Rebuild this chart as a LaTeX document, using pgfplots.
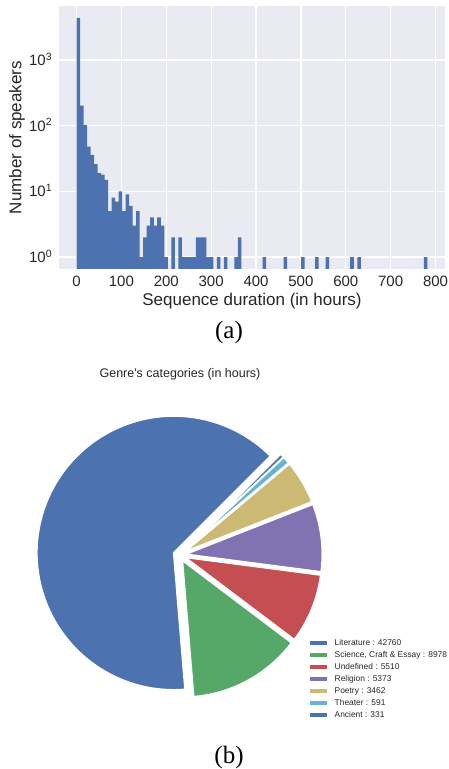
\documentclass[border=0pt]{standalone}
\usepackage{pgfplots}
\pgfplotsset{compat=1.18}
\usepackage{pgfplotstable}
\usepackage{fontspec}
\setmainfont{Liberation Sans}
\newfontfamily\capfont{Liberation Serif}
\definecolor{bg}{HTML}{EAEAF2}
\definecolor{txt}{HTML}{262626}
\definecolor{c0}{HTML}{4C72B0}
\definecolor{c1}{HTML}{55A868}
\definecolor{c2}{HTML}{C44E52}
\definecolor{c3}{HTML}{8172B2}
\definecolor{c4}{HTML}{CCB974}
\definecolor{c5}{HTML}{64B5CD}

% histogram: bin centre (bin width 7.82 h) and number of speakers
\pgfplotstableread{
x y
3.91 4360
11.73 202
19.55 102
27.37 48
35.19 36
43.01 26
50.83 19
58.65 18
66.47 15
74.29 5
82.11 8
89.93 7
97.75 10
105.57 5
113.39 9
121.21 6
129.03 3
136.85 5
144.67 1
152.49 2
160.31 3
168.13 4
175.95 3
183.77 4
191.59 3
199.41 1
215.05 2
230.69 2
238.51 1
246.33 1
254.15 1
261.97 1
269.79 2
277.61 2
285.43 2
293.25 1
301.07 1
316.71 1
332.35 1
355.81 1
363.63 2
418.37 1
465.29 1
504.39 1
535.67 1
559.13 1
613.87 1
629.51 1
778.09 1
}\histdata

% pie: genre hours (in thousands of hours for the angle computation)
\pgfmathsetmacro{\pietot}{42.760+8.978+5.510+5.373+3.462+0.591+0.331}
\def\pcx{179.4}
\def\pcy{214}
\def\pr{137}
\def\pex{6}
\def\curang{45}
\newcommand{\piewedge}[2]{%
  \pgfmathsetmacro{\wa}{\curang}%
  \pgfmathsetmacro{\wb}{\curang+360*#1/\pietot}%
  \pgfmathsetmacro{\wm}{(\wa+\wb)/2}%
  \pgfmathsetmacro{\wcx}{\pcx+\pex*cos(\wm)}%
  \pgfmathsetmacro{\wcy}{\pcy+\pex*sin(\wm)}%
  \edef\doit{\noexpand\addplot[fill=#2, draw=white, line width=1.8pt, line join=round, domain=\wa:\wb, samples=100, variable=\noexpand\t] ({\wcx+\pr*cos(\noexpand\t)},{\wcy+\pr*sin(\noexpand\t)}) -- (axis cs:\wcx,\wcy) -- cycle;}%
  \doit
  \global\let\curang\wb
}

\begin{document}
\begin{tikzpicture}
\useasboundingbox (0pt,0pt) rectangle (449pt,769pt);

\begin{axis}[
  at={(59pt,500pt)}, anchor=south west,
  scale only axis, width=386pt, height=263pt,
  xmin=-39.1, xmax=821.1,
  ymode=log, ymin=0.658, ymax=6620, log origin=infty,
  axis background/.style={fill=bg},
  axis line style={draw=none},
  tick style={draw=none}, major tick length=0pt, minor tick length=0pt,
  grid=major, major grid style={white, line width=1.3pt},
  xtick={0,100,...,800},
  ytick={1,10,100,1000},
  yticklabels={10\textsuperscript{0},10\textsuperscript{1},10\textsuperscript{2},10\textsuperscript{3}},
  /pgf/number format/assume math mode=true,
  tick label style={font=\fontsize{15}{18}\selectfont, text=txt},
  xticklabel style={anchor=base, yshift=-17.7pt},
  yticklabel style={anchor=base east, inner sep=0pt, xshift=-6.7pt, yshift=-5.4pt},
  xlabel={Sequence duration (in hours)},
  ylabel={Number of speakers},
  label style={font=\fontsize{17}{20}\selectfont, text=txt},
  xlabel style={at={(axis description cs:0.5,-0.1388)}, anchor=base},
  ylabel style={at={(axis description cs:-0.1088,0.5)}, anchor=center, rotate=0},
]
\addplot[ybar, bar width=7.86, bar shift=0pt, fill=c0, draw=none] table[x=x, y=y] {\histdata};
\end{axis}

\begin{axis}[
  at={(0pt,0pt)}, anchor=south west,
  scale only axis, width=449pt, height=769pt,
  xmin=0, xmax=449, ymin=0, ymax=769,
  hide axis, clip=false,
  legend image code/.code={\fill[#1, draw=none] (0pt,-2.15pt) rectangle (17pt,2.15pt);},
  legend cell align=left,
  legend style={at={(axis cs:310,132)}, anchor=north west, draw=none, fill=none,
    font=\fontsize{8.4}{9}\selectfont, text=txt, inner sep=0pt, row sep=0pt,
    nodes={inner sep=1.5pt, text height=6.5pt, text depth=2.5pt},
    /tikz/every odd column/.append style={column sep=6pt}},
]
\piewedge{42.760}{c0}
\addlegendentry{Literature : 42760}
\piewedge{8.978}{c1}
\addlegendentry{Science, Craft \& Essay : 8978}
\piewedge{5.510}{c2}
\addlegendentry{Undefined : 5510}
\piewedge{5.373}{c3}
\addlegendentry{Religion : 5373}
\piewedge{3.462}{c4}
\addlegendentry{Poetry : 3462}
\piewedge{0.591}{c5}
\addlegendentry{Theater : 591}
\piewedge{0.331}{c0}
\addlegendentry{Ancient : 331}
\node[font=\fontsize{12.5}{14}\selectfont, text=txt] at (axis cs:180,395) {Genre\textquotesingle s categories (in hours)};
\end{axis}

\node[font=\capfont\fontsize{25}{28}\selectfont] at (229pt,437pt) {(a)};
\node[font=\capfont\fontsize{25}{28}\selectfont] at (229pt,12pt) {(b)};
\end{tikzpicture}
\end{document}
